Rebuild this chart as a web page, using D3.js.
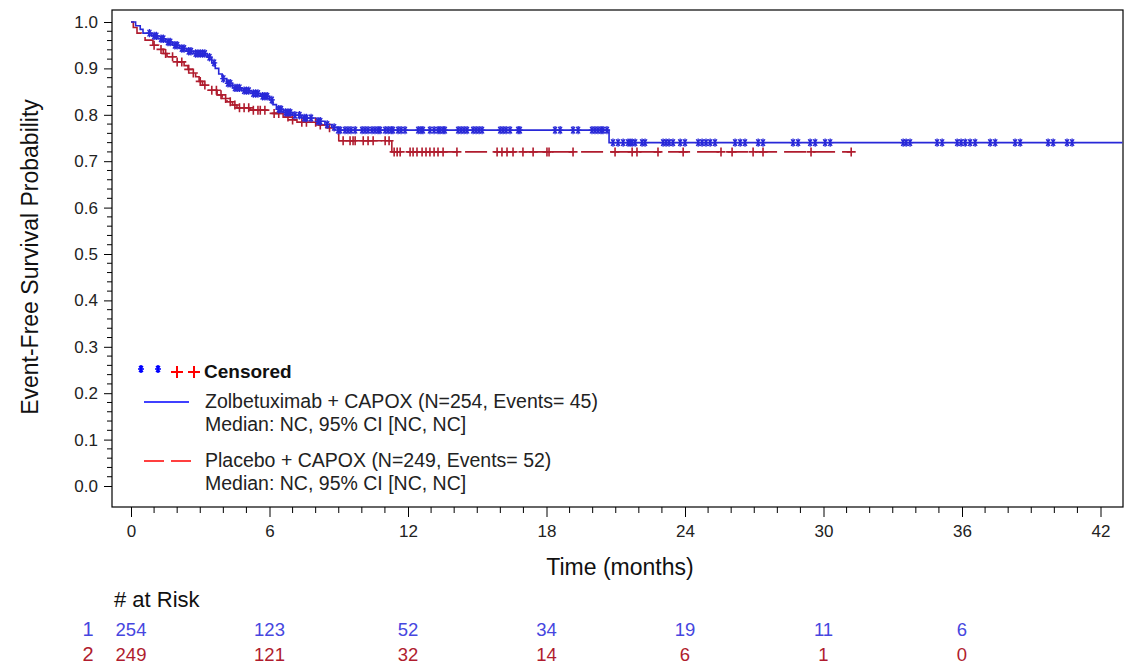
<!DOCTYPE html>
<html><head><meta charset="utf-8">
<script src="https://cdn.jsdelivr.net/npm/d3@7"></script>
<style>
body{margin:0;background:#fff}
text{font-family:"Liberation Sans",Arial,sans-serif}
</style>
</head><body>
<svg id="c" width="1124" height="667"></svg>
<script>
// ---------- data ----------
const xTicks = [0, 6, 12, 18, 24, 30, 36, 42];
const yTicks = [0.0, 0.1, 0.2, 0.3, 0.4, 0.5, 0.6, 0.7, 0.8, 0.9, 1.0];
// KM steps: [time (months), survival after event]
const blueSteps = [[0,1],[0.2,0.992],[0.4,0.984],[0.52,0.976],[0.9,0.970],[1.17,0.964],[1.5,0.957],[1.8,0.950],[2.1,0.943],[2.4,0.937],[2.7,0.932],[3.3,0.924],[3.5,0.912],[3.65,0.900],[3.8,0.888],[3.95,0.878],[4.15,0.868],[4.4,0.858],[4.8,0.852],[5.2,0.846],[5.6,0.840],[6.0,0.832],[6.15,0.822],[6.3,0.812],[6.6,0.805],[7.0,0.799],[7.4,0.793],[8.0,0.786],[8.4,0.779],[8.7,0.773],[8.95,0.767],[20.71,0.740]];
const redSteps = [[0,1],[0.1,0.988],[0.26,0.976],[0.45,0.968],[0.61,0.961],[0.95,0.950],[1.2,0.941],[1.4,0.932],[1.56,0.925],[1.99,0.914],[2.3,0.906],[2.47,0.898],[2.65,0.890],[2.8,0.882],[2.95,0.872],[3.1,0.864],[3.29,0.853],[3.73,0.843],[3.95,0.835],[4.16,0.828],[4.4,0.821],[4.59,0.815],[5.16,0.810],[5.89,0.803],[6.59,0.795],[6.9,0.789],[7.19,0.784],[8.06,0.778],[8.5,0.772],[8.8,0.758],[9.0,0.744],[11.3,0.720]];
const blueEnd = 42.95;
const redEnd = 31.2;
const blueCensor = [0.8,1.0,1.1,1.3,1.4,1.6,1.7,1.9,2.0,2.2,2.3,2.5,2.6,2.8,2.9,3.0,3.1,3.2,3.4,3.6,4.0,4.2,4.3,4.5,4.6,4.7,4.9,5.0,5.1,5.3,5.4,5.5,5.7,5.8,5.9,6.1,6.4,6.5,6.7,6.8,6.9,7.1,7.3,7.5,7.6,7.8,8.1,8.2,8.5,8.8,8.97,9.06,9.27,9.40,9.53,9.71,10.01,10.14,10.27,10.44,10.57,10.70,10.79,11.01,11.14,11.27,11.35,11.57,11.70,11.87,12.44,12.56,12.65,12.95,13.13,13.30,13.39,13.52,13.60,14.17,14.30,14.43,14.56,14.82,14.95,15.08,15.21,15.99,16.12,16.25,16.42,16.77,16.85,18.37,18.59,19.15,19.37,19.97,20.10,20.23,20.36,20.45,20.62,20.88,21.10,21.32,21.53,21.62,21.71,21.84,22.14,22.27,23.05,23.18,23.31,23.48,23.79,24.00,24.57,24.74,24.91,25.09,25.30,26.17,26.39,26.60,27.17,27.38,28.68,28.90,29.42,29.64,30.07,30.29,33.45,33.58,33.75,34.92,35.14,35.79,35.96,36.14,36.35,36.57,37.22,37.44,38.30,38.52,39.73,39.95,40.55,40.77];
const redCensor = [1.0,1.3,1.5,1.8,2.0,2.2,2.5,2.7,3.0,3.2,3.5,3.7,3.9,4.1,4.3,4.5,4.7,4.9,5.1,5.3,5.5,5.6,5.8,6.2,6.4,6.8,7.0,7.4,7.6,8.0,8.2,8.6,9.19,9.49,9.62,9.71,10.06,10.27,10.49,11.01,11.18,11.40,11.53,11.66,12.09,12.22,12.39,12.61,12.78,12.95,13.13,13.30,13.52,14.12,15.86,16.07,16.29,16.55,16.98,17.42,18.02,18.11,19.15,20.97,21.71,21.92,22.83,23.92,25.56,26.04,26.95,27.38,29.46,31.20];
const atRiskTimes = [0, 6, 12, 18, 24, 30, 36];
const atRiskBlue = [254, 123, 52, 34, 19, 11, 6];
const atRiskRed = [249, 121, 32, 14, 6, 1, 0];
const legendBlue = ["Zolbetuximab + CAPOX (N=254, Events= 45)", "Median: NC, 95% CI [NC, NC]"];
const legendRed = ["Placebo + CAPOX (N=249, Events= 52)", "Median: NC, 95% CI [NC, NC]"];

// ---------- drawing ----------
const svg = d3.select("#c");
const BLUE = "#2828d8", RED = "#b01c2e";
const frame = {l:112, t:10, r:1123, b:507};
const x = d3.scaleLinear().domain([0, 42]).range([131, 1100.5]);
const y = d3.scaleLinear().domain([0, 1]).range([486, 22]);

svg.append("rect").attr("x", frame.l).attr("y", frame.t)
  .attr("width", frame.r - frame.l).attr("height", frame.b - frame.t)
  .attr("fill", "none").attr("stroke", "#000").attr("stroke-width", 1.2);

// y axis
const yAx = svg.append("g").attr("transform", `translate(${frame.l},0)`)
  .call(d3.axisLeft(y).tickValues(yTicks).tickFormat(d3.format(".1f")).tickSize(8).tickPadding(6));
const yMinor = d3.range(0, 1.0001, 0.02).filter(v => Math.abs(v*10 - Math.round(v*10)) > 1e-6);
yAx.selectAll(".minor").data(yMinor).enter().append("line").attr("class","minor")
  .attr("x1", -5).attr("x2", 0).attr("y1", d => y(d)).attr("y2", d => y(d)).attr("stroke", "#000");
// x axis
const xAx = svg.append("g").attr("transform", `translate(0,${frame.b})`)
  .call(d3.axisBottom(x).tickValues(xTicks).tickSize(10).tickPadding(8));
const xMinor = d3.range(1, 43).filter(v => v % 6 !== 0);
xAx.selectAll(".minor").data(xMinor).enter().append("line").attr("class","minor")
  .attr("y1", 0).attr("y2", 6).attr("x1", d => x(d)).attr("x2", d => x(d)).attr("stroke", "#000");
[yAx, xAx].forEach(a => {
  a.select(".domain").remove();
  a.selectAll("text").attr("font-size", 17).attr("fill", "#222").attr("font-family", '"Liberation Sans",Arial,sans-serif');
  a.selectAll(".tick line").attr("stroke", "#000");
});

// titles
svg.append("text").attr("x", 620).attr("y", 575).attr("text-anchor", "middle")
  .attr("font-size", 23).attr("fill", "#111").text("Time (months)");
svg.append("text").attr("transform", "translate(38,257) rotate(-90)").attr("text-anchor", "middle")
  .attr("font-size", 23).attr("fill", "#111").text("Event-Free Survival Probability");

// curves
function stepPts(steps, end) { const p = steps.slice(); p.push([end, steps[steps.length-1][1]]); return p; }
function surv(steps, t) { let s = 1; for (const st of steps) { if (st[0] <= t) s = st[1]; } return s; }
const line = d3.line().x(d => x(d[0])).y(d => y(d[1])).curve(d3.curveStepAfter);
svg.append("path").attr("d", line(stepPts(redSteps, redEnd))).attr("fill", "none")
  .attr("stroke", RED).attr("stroke-width", 1.6).attr("stroke-dasharray", "22,7");
svg.append("path").attr("d", line(stepPts(blueSteps, blueEnd))).attr("fill", "none")
  .attr("stroke", BLUE).attr("stroke-width", 1.6);

// censor marks
function asterisk(g, cx, cy, r, color, w) {
  g.append("path").attr("d",
    `M${cx},${cy-r}L${cx},${cy+r}` +
    `M${cx-r*0.75},${cy}L${cx+r*0.75},${cy}` +
    `M${cx-r*0.45},${cy-r*0.8}L${cx+r*0.45},${cy+r*0.8}` +
    `M${cx+r*0.45},${cy-r*0.8}L${cx-r*0.45},${cy+r*0.8}`)
    .attr("stroke", color).attr("stroke-width", w).attr("fill", "none");
}
function plus(g, cx, cy, r, color, w) {
  g.append("path").attr("d", `M${cx},${cy-r}L${cx},${cy+r}M${cx-r},${cy}L${cx+r},${cy}`)
    .attr("stroke", color).attr("stroke-width", w).attr("fill", "none");
}
const gR = svg.append("g");
redCensor.forEach(t => plus(gR, x(t), y(surv(redSteps, t)), 4.5, RED, 1.6));
const gB = svg.append("g");
blueCensor.forEach(t => asterisk(gB, x(t), y(surv(blueSteps, t)), 4.2, BLUE, 1.3));

// legend
const lg = svg.append("g");
asterisk(lg, 141, 369, 4, "#0000ff", 1.6);
asterisk(lg, 158, 369, 4, "#0000ff", 1.6);
plus(lg, 177, 372, 6, "#ff0000", 2);
plus(lg, 194, 372, 6, "#ff0000", 2);
lg.append("text").attr("x", 204).attr("y", 378).attr("font-size", 19).attr("font-weight", "bold").attr("fill", "#111").text("Censored");
lg.append("line").attr("x1", 144).attr("x2", 189).attr("y1", 402).attr("y2", 402).attr("stroke", "#0000ff").attr("stroke-width", 1.4);
lg.append("line").attr("x1", 144).attr("x2", 191).attr("y1", 461).attr("y2", 461).attr("stroke", "#ff0000").attr("stroke-width", 1.4).attr("stroke-dasharray", "20,7");
legendBlue.forEach((s, i) => lg.append("text").attr("x", 205).attr("y", 408 + i*23).attr("font-size", 19.5).attr("fill", "#222").text(s));
legendRed.forEach((s, i) => lg.append("text").attr("x", 205).attr("y", 467 + i*23).attr("font-size", 19.5).attr("fill", "#222").text(s));

// at risk table
svg.append("text").attr("x", 114).attr("y", 607).attr("font-size", 22).attr("fill", "#111").text("# at Risk");
svg.append("text").attr("x", 88).attr("y", 636).attr("text-anchor", "middle").attr("font-size", 20).attr("fill", "#4646e0").text("1");
svg.append("text").attr("x", 88).attr("y", 661).attr("text-anchor", "middle").attr("font-size", 20).attr("fill", RED).text("2");
svg.append("g").selectAll("text").data(atRiskTimes).enter().append("text")
  .attr("x", d => x(d)).attr("y", 636).attr("text-anchor", "middle").attr("font-size", 18.5).attr("fill", "#4646e0")
  .text((d, i) => atRiskBlue[i]);
svg.append("g").selectAll("text").data(atRiskTimes).enter().append("text")
  .attr("x", d => x(d)).attr("y", 661).attr("text-anchor", "middle").attr("font-size", 18.5).attr("fill", RED)
  .text((d, i) => atRiskRed[i]);
</script>
</body></html>
